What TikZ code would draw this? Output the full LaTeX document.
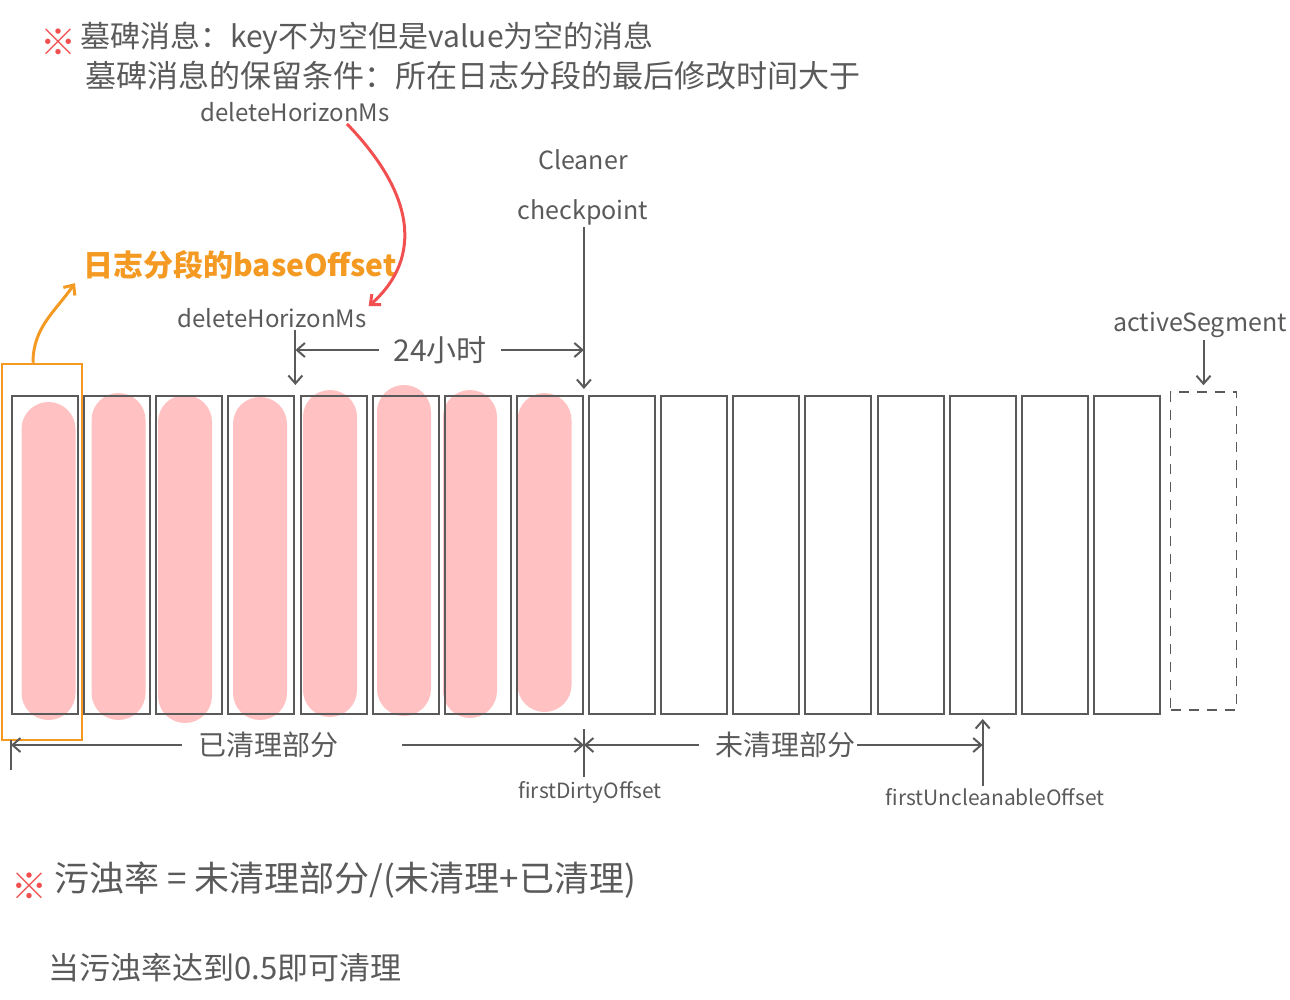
\documentclass[tikz,border=0pt]{standalone}
\usepackage{fontspec}
\setmainfont{Noto Sans CJK SC}
\usetikzlibrary{arrows.meta, positioning, calc}
\definecolor{ink}{HTML}{5A5A5A}
\definecolor{inkorange}{HTML}{F49A22}
\definecolor{inkred}{HTML}{F25050}
\definecolor{pinkfill}{HTML}{FFC1C1}
\tikzset{
	seg/.style={rectangle, draw=ink, line width=2pt, minimum width=66pt, minimum height=318pt, inner sep=0pt},
	pill/.style={rectangle, fill=pinkfill, rounded corners=27pt, minimum width=54pt, inner sep=0pt},
	note/.style={text=ink, inner sep=2pt},
	redstar/.style={text=inkred, font=\bfseries\fontsize{36}{36}\selectfont, inner sep=0pt},
	arr/.style={draw=ink, line width=2pt, -{Straight Barb[length=8pt, width=14pt]}}
}

\begin{document}
\begin{tikzpicture}[x=1pt, y=-1pt]
        \useasboundingbox (0,0) rectangle (1290,1000);

        % cleaned parts of the log
        \foreach \i/\xc/\yc/\h in {1/48.5/561/318, 2/118.5/556.5/327, 3/185/559/328, 4/260/558.5/323,
                                   5/330/553.5/327, 6/404/550.5/331, 7/470/554/328, 8/544.5/552.5/319}
            \node[pill, minimum height=\h pt] (p\i) at (\xc, \yc) {};

        % log segments
        \foreach \i in {1,...,16}
            \node[seg] (s\i) at ({45+(\i-1)*72.13}, 555) {};
        \node[seg, line width=1.5pt, dash pattern=on 10pt off 8pt] (act) at (1203.5, 551) {};

        \node[rectangle, draw=inkorange, line width=2.5pt, minimum width=80pt, minimum height=376pt] (base) at (42, 552) {};

        % notes on top
        \node[redstar] (star1) at (58, 42) {※};
        \node[note, anchor=west, font=\fontsize{30}{34}\selectfont] (tomb) at (78, 38) {墓碑消息：key不为空但是value为空的消息};
        \node[note, anchor=west, font=\fontsize{31}{34}\selectfont] (keep) at (83, 76) {墓碑消息的保留条件：所在日志分段的最后修改时间大于};
        \node[note, font=\fontsize{24}{28}\selectfont] (dh1) at (295, 112) {deleteHorizonMs};

        \node[text=inkorange, anchor=west, font=\bfseries\fontsize{30}{34}\selectfont] (bo) at (80, 265) {日志分段的baseOffset};
        \node[note, font=\fontsize{24}{28}\selectfont] (dh2) at (272, 318) {deleteHorizonMs};
        \node[note, align=center, font=\fontsize{25}{50}\selectfont] (chk) at (583, 187) {Cleaner\\checkpoint};
        \node[note, inner xsep=14pt, font=\fontsize{30}{34}\selectfont] (h24) at (440, 350) {24小时};
        \node[note, font=\fontsize{25}{29}\selectfont] (actl) at (1200, 325) {activeSegment};

        \draw[arr] (h24.west) -- (h24.west -| s4.north east);
        \draw[arr] (h24.east) -- (h24.east -| s8.north east);
        \draw[arr] (dh2.south -| s4.north east) -- ([yshift=10pt]s4.north east);
        \draw[arr] (chk.south -| s8.north east) -- ([yshift=6pt]s8.north east);
        \draw[arr] (actl.south -| act.north) -- ([yshift=6pt]act.north);

        \draw[inkorange, line width=3pt, -{Straight Barb[length=8pt, width=14pt]}]
            ([xshift=-9pt]base.north) to[out=90, in=235] ([xshift=-5pt]bo.south west);
        \draw[inkred, line width=3pt, -{Straight Barb[length=8pt, width=14pt]}]
            ([xshift=52pt]dh1.south) .. controls (430, 210) and (410, 270) .. (dh2.north east);

        % cleaned / dirty ranges
        \node[note, font=\fontsize{28}{32}\selectfont] (done) at (268, 745) {已清理部分};
        \node[note, font=\fontsize{28}{32}\selectfont] (dirty) at (785, 745) {未清理部分};
        \node[note, font=\fontsize{21}{25}\selectfont] (fdo) at (590, 792) {firstDirtyOffset};
        \node[note, font=\fontsize{21}{25}\selectfont] (fuo) at (995, 797) {firstUncleanableOffset};

        \draw[ink, line width=2pt] ([yshift=-25pt]s1.south west) -- ++(0, 30);
        \draw[ink, line width=2pt] ([yshift=-14pt]s8.south east) -- ++(0, 48);
        \draw[arr] ([xshift=-14pt]done.west) -- (done.west -| s1.south west);
        \draw[arr] ([xshift=62pt]done.east) -- (done.east -| s8.south east);
        \draw[arr] ([xshift=-14pt]dirty.west) -- (dirty.west -| s8.south east);
        \draw[arr] (dirty.east) -- (dirty.east -| s14.south);
        \draw[arr] (fuo.north -| s14.south) -- ([yshift=-4pt]s14.south);

        % dirty ratio
        \node[redstar] (star2) at (30, 886) {※};
        \node[note, anchor=west, font=\fontsize{35}{40}\selectfont] (ratio) at (52, 880) {污浊率 = 未清理部分/(未清理+已清理)};
        \node[note, anchor=west, font=\fontsize{31}{35}\selectfont] (rule) at (46, 968) {当污浊率达到0.5即可清理};
\end{tikzpicture}
\end{document}
